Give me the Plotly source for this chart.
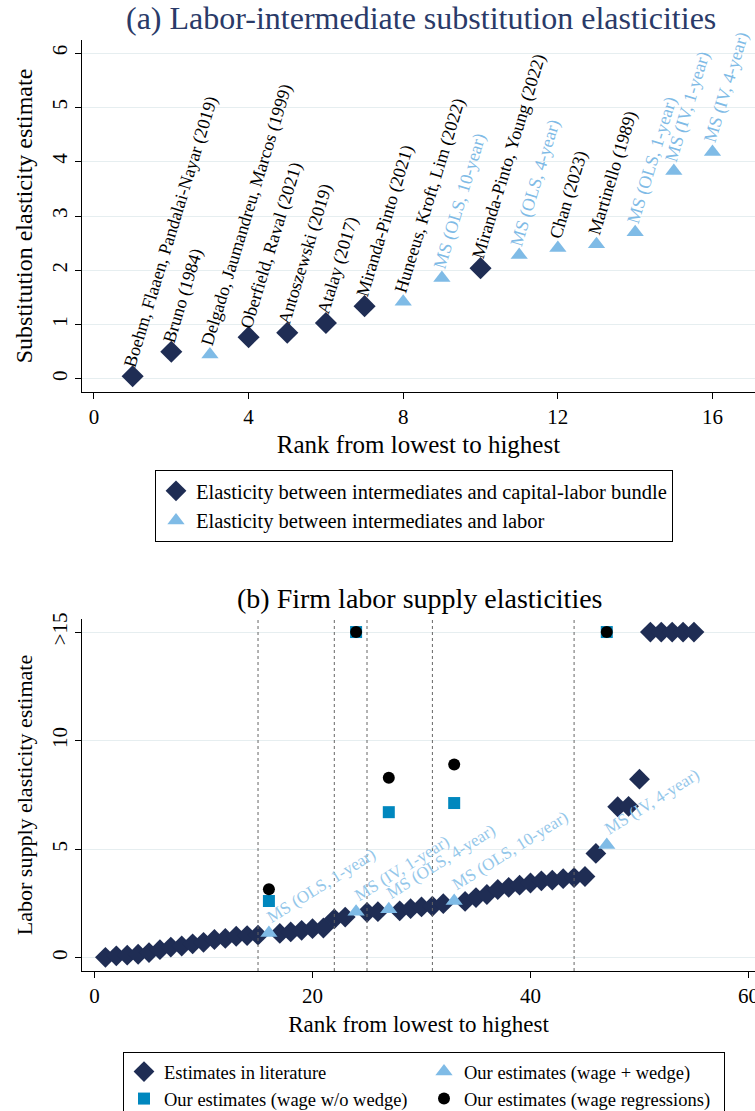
import plotly.graph_objects as go

# ---------------- Panel (a) data ----------------
a_rank = list(range(1, 17))
a_value = [0.05, 0.50, 0.45, 0.77, 0.85, 1.03, 1.34, 1.42, 1.86, 2.04, 2.28, 2.41, 2.48, 2.70, 3.83, 4.18]
a_type = ["kl", "kl", "l", "kl", "kl", "kl", "kl", "l", "l", "kl", "l", "l", "l", "l", "l", "l"]
a_label = [
    "Boehm, Flaaen, Pandalai-Nayar (2019)",
    "Bruno (1984)",
    "Delgado, Jaumandreu, Marcos (1999)",
    "Oberfield, Raval (2021)",
    "Antoszewski (2019)",
    "Atalay (2017)",
    "Miranda-Pinto (2021)",
    "Huneeus, Kroft, Lim (2022)",
    "MS (OLS, 10-year)",
    "Miranda-Pinto, Young (2022)",
    "MS (OLS, 4-year)",
    "Chan (2023)",
    "Martinello (1989)",
    "MS (OLS, 1-year)",
    "MS (IV, 1-year)",
    "MS (IV, 4-year)",
]

# ---------------- Panel (b) data ----------------
lit_rank = list(range(1, 16)) + list(range(17, 24)) + [25, 26] + list(range(28, 33)) + list(range(34, 47)) + list(range(48, 56))
lit_value = [0.03, 0.10, 0.13, 0.17, 0.25, 0.38, 0.50, 0.55, 0.65, 0.72, 0.85, 0.90, 1.00, 1.03, 1.05,
             1.13, 1.20, 1.27, 1.35, 1.38, 1.80, 1.88,
             2.10, 2.13,
             2.17, 2.27, 2.35, 2.38, 2.50,
             2.60, 2.78, 2.92, 3.15, 3.25, 3.35, 3.45, 3.55, 3.58, 3.65, 3.70, 3.75, 4.81,
             6.96, 6.98, 8.23, 15, 15, 15, 15, 15]
ww_rank = [16, 24, 27, 33, 47]
ww_value = [1.15, 2.13, 2.24, 2.62, 5.2]
ww_label = ["MS (OLS, 1-year)", "MS (IV, 1-year)", "MS (OLS, 4-year)", "MS (OLS, 10-year)", "MS (IV, 4-year)"]
nw_rank = [16, 24, 27, 33, 47]
nw_value = [2.62, 15, 6.71, 7.13, 15]
wr_rank = [16, 24, 27, 33, 47]
wr_value = [3.16, 15, 8.29, 8.90, 15]
vlines = [15, 22, 25, 31, 44]

NAVY = "#1f2d54"
LIGHT = "#7fbbe6"
TEAL = "#0087be"
TITLE_NAVY = "#2a3a68"
GRID = "#e6eef0"
FONT = "Liberation Serif, Times New Roman, serif"

fig = go.Figure()

# panel (a)
kl_x = [r for r, t in zip(a_rank, a_type) if t == "kl"]
kl_y = [v for v, t in zip(a_value, a_type) if t == "kl"]
l_x = [r for r, t in zip(a_rank, a_type) if t == "l"]
l_y = [v for v, t in zip(a_value, a_type) if t == "l"]

fig.add_trace(go.Scatter(x=kl_x, y=kl_y, mode="markers", xaxis="x", yaxis="y",
                         marker=dict(symbol="diamond", size=17, color=NAVY),
                         name="Elasticity between intermediates and capital-labor bundle",
                         legend="legend"))
fig.add_trace(go.Scatter(x=l_x, y=l_y, mode="markers", xaxis="x", yaxis="y",
                         marker=dict(symbol="triangle-up", size=15, color=LIGHT),
                         name="Elasticity between intermediates and labor",
                         legend="legend"))

# panel (b)
fig.add_trace(go.Scatter(x=lit_rank, y=lit_value, mode="markers", xaxis="x2", yaxis="y2",
                         marker=dict(symbol="diamond", size=16, color=NAVY),
                         name="Estimates in literature", legend="legend2"))
fig.add_trace(go.Scatter(x=ww_rank, y=ww_value, mode="markers", xaxis="x2", yaxis="y2",
                         marker=dict(symbol="triangle-up", size=15, color=LIGHT),
                         name="Our estimates (wage + wedge)", legend="legend2"))
fig.add_trace(go.Scatter(x=nw_rank, y=nw_value, mode="markers", xaxis="x2", yaxis="y2",
                         marker=dict(symbol="square", size=12, color=TEAL),
                         name="Our estimates (wage w/o wedge)", legend="legend2"))
fig.add_trace(go.Scatter(x=wr_rank, y=wr_value, mode="markers", xaxis="x2", yaxis="y2",
                         marker=dict(symbol="circle", size=12, color="black"),
                         name="Our estimates (wage regressions)", legend="legend2"))

annotations = []
for r, v, lab, t in zip(a_rank, a_value, a_label, a_type):
    annotations.append(dict(x=r, y=v, xref="x", yref="y", text=lab, showarrow=False,
                            textangle=-73, xanchor="left", yanchor="bottom",
                            xshift=-15, yshift=4,
                            font=dict(family=FONT, size=18, color="black" if lab[:2] != "MS" else LIGHT)))
for r, v, lab in zip(ww_rank, ww_value, ww_label):
    annotations.append(dict(x=r, y=v, xref="x2", yref="y2", text=lab, showarrow=False,
                            textangle=-32, xanchor="left", yanchor="bottom",
                            xshift=-8, yshift=4,
                            font=dict(family=FONT, size=17, color="#94c7ea")))

annotations.append(dict(x=0.557, y=1 - 18 / 1111, xref="paper", yref="paper", showarrow=False,
                        yanchor="middle",
                        text="(a) Labor-intermediate substitution elasticities",
                        font=dict(family=FONT, size=32, color=TITLE_NAVY)))
annotations.append(dict(x=0.556, y=1 - 598 / 1111, xref="paper", yref="paper", showarrow=False,
                        yanchor="middle",
                        text="(b) Firm labor supply elasticities",
                        font=dict(family=FONT, size=28, color="black")))

shapes = []
for xv in vlines:
    shapes.append(dict(type="line", xref="x2", yref="y2 domain", x0=xv, x1=xv, y0=0, y1=1,
                       line=dict(color="#666666", width=1, dash="dot")))

axis_common = dict(showline=True, linecolor="black", linewidth=1, ticks="outside",
                   ticklen=6, tickcolor="black", zeroline=False, automargin=False,
                   ticklabeloverflow="allow",
                   tickfont=dict(family=FONT, size=21, color="black"))

fig.update_layout(
    width=755, height=1111,
    margin=dict(l=0, r=0, t=0, b=0, autoexpand=False),
    paper_bgcolor="white", plot_bgcolor="white",
    font=dict(family=FONT, color="black"),
    xaxis=dict(domain=[82 / 755, 1], anchor="y", range=[-0.31, 17.1],
               tickvals=[0, 4, 8, 12, 16], showgrid=False,
               title=dict(text="Rank from lowest to highest", font=dict(family=FONT, size=25), standoff=7),
               **axis_common),
    yaxis=dict(domain=[1 - 392 / 1111, 1 - 40 / 1111], anchor="x", range=[-0.24, 6.24],
               tickvals=[0, 1, 2, 3, 4, 5, 6], tickangle=-90, showgrid=True, gridcolor=GRID,
               title=dict(text="Substitution elasticity estimate", font=dict(family=FONT, size=24), standoff=8),
               **axis_common),
    xaxis2=dict(domain=[82 / 755, 1], anchor="y2", range=[-1.15, 60.6],
                tickvals=[0, 20, 40, 60], showgrid=False,
                title=dict(text="Rank from lowest to highest", font=dict(family=FONT, size=23), standoff=8),
                **axis_common),
    yaxis2=dict(domain=[1 - 971 / 1111, 1 - 619 / 1111], anchor="x2", range=[-0.6, 15.6],
                tickvals=[0, 5, 10, 15], ticktext=["0", "5", "10", ">15"], tickangle=-90,
                showgrid=True, gridcolor=GRID,
                title=dict(text="Labor supply elasticity estimate", font=dict(family=FONT, size=22), standoff=8),
                **axis_common),
    legend=dict(x=155 / 755, y=1 - 470 / 1111, xanchor="left", yanchor="top",
                bordercolor="black", borderwidth=1, bgcolor="white",
                font=dict(family=FONT, size=20.5, color="black"), orientation="v"),
    legend2=dict(x=123 / 755, y=1 - 1052 / 1111, xanchor="left", yanchor="top",
                 bordercolor="black", borderwidth=1, bgcolor="white",
                 font=dict(family=FONT, size=18.5, color="black"), orientation="h",
                 entrywidth=255, entrywidthmode="pixels"),
    annotations=annotations,
    shapes=shapes,
    showlegend=True,
)

fig.write_html("out.html")
